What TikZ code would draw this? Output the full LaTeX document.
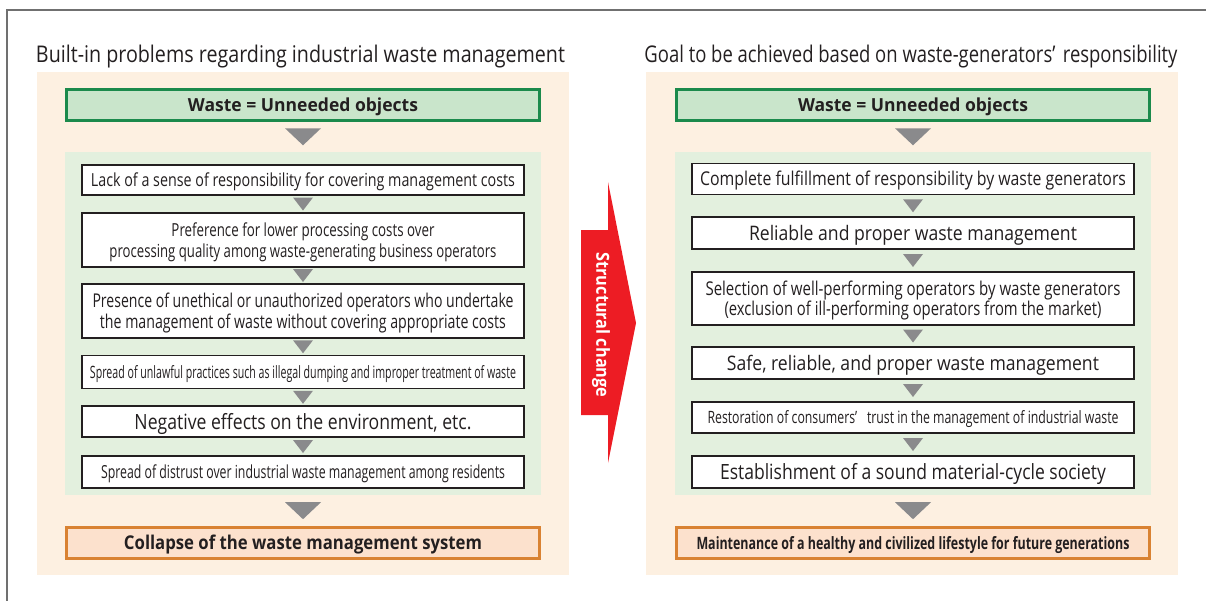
\documentclass[tikz,border=0pt]{standalone}
\usepackage{fontspec}
\usepackage{graphicx}
\usetikzlibrary{calc}
\setmainfont{Open Sans}
\definecolor{frameline}{HTML}{707070}
\definecolor{beige}{HTML}{FDF0E1}
\definecolor{panelgreen}{HTML}{E3F0DE}
\definecolor{headfill}{HTML}{C9E5CB}
\definecolor{headline}{HTML}{1B8A4C}
\definecolor{footfill}{HTML}{FCE1CD}
\definecolor{footline}{HTML}{D98232}
\definecolor{arrowgrey}{HTML}{8A8A8C}
\definecolor{turnred}{HTML}{ED1C24}
\definecolor{txt}{HTML}{231F20}
% squeeze a line to a width (second lines: \fitline, no lift)
\newcommand{\fitline}[2]{\resizebox{#1}{\height}{#2}}
\newcommand{\fitw}[2]{\raisebox{0pt}[\dimexpr\height+2pt\relax][\depth]{\fitline{#1}{#2}}}
\newcommand{\fs}[1]{\fontsize{#1}{#1}\selectfont}
% grey triangle halfway between two boxes
\newcommand{\downtri}[4]{\fill[arrowgrey] ($(#1.south)!.5!(#2.north)$) ++(-#3,#4) -- ++(2*#3,0) -- ++(-#3,-2*#4) -- cycle;}

\begin{document}
\begin{tikzpicture}[x=0.5pt,y=0.5pt]
\tikzstyle{every node}+=[inner sep=0pt, text=txt]
\tikzstyle{backpanel}=[fill=beige, minimum width=266pt, minimum height=251.5pt]
\tikzstyle{midpanel}=[fill=panelgreen, minimum width=238pt, minimum height=171.5pt]
\tikzstyle{headbox}=[draw=headline, line width=1.5pt, fill=headfill, minimum width=236.5pt, minimum height=15.5pt, font=\fs{9}\bfseries]
\tikzstyle{footbox}=[draw=footline, line width=1.5pt, fill=footfill, minimum width=236.5pt, minimum height=15.5pt]
\tikzstyle{wbox}=[draw=txt, line width=0.6pt, fill=white, minimum width=221pt, align=center]
\tikzstyle{title}=[font=\fs{11.5}]
\useasboundingbox (0,0) rectangle (1206,-601);
\draw [frameline, line width=0.6pt] (1206,-10) -- (7,-10) -- (7,-601);
% left side
\node [title] (ltitle) at (300.5,-55) {\fitw{264.5pt}{Built-in problems regarding industrial waste management}};
\node [backpanel] (lback) at (303,-323.5) {};
\node [midpanel] (lpanel) at (303,-323.5) {};
\node [headbox] (lhead) at (303,-105) {\fitw{115pt}{Waste = Unneeded objects}};
\node [wbox, minimum height=15pt, font=\fs{9}] (l1) at (303,-180) {\fitw{212pt}{Lack of a sense of responsibility for covering management costs}};
\node [wbox, minimum height=27pt, font=\fontsize{9}{10.5}\selectfont] (l2) at (303,-240) {\fitw{131.5pt}{Preference for lower processing costs over}\\\fitline{193.5pt}{processing quality among waste-generating business operators}};
\node [wbox, minimum height=27pt, font=\fontsize{9.5}{10.5}\selectfont] (l3) at (303,-311) {\fitw{210.5pt}{Presence of unethical or unauthorized operators who undertake}\\\fitline{203pt}{the management of waste without covering appropriate costs}};
\node [wbox, minimum height=16.5pt, font=\fs{8.5}] (l4) at (303,-372) {\fitw{213pt}{Spread of unlawful practices such as illegal dumping and improper treatment of waste}};
\node [wbox, minimum height=15.5pt, font=\fs{10.5}] (l5) at (303,-421.5) {\fitw{168.5pt}{Negative effects on the environment, etc.}};
\node [wbox, minimum height=16pt, font=\fs{9}] (l6) at (303,-472) {\fitw{202pt}{Spread of distrust over industrial waste management among residents}};
\node [footbox, font=\fs{9.5}\bfseries] (lfoot) at (303,-543) {\fitw{179pt}{Collapse of the waste management system}};
\downtri{lhead}{lpanel}{18}{8.5}
\downtri{l1}{l2}{10}{6.5}
\downtri{l2}{l3}{10}{6.5}
\downtri{l3}{l4}{10}{6.5}
\downtri{l4}{l5}{10}{6.5}
\downtri{l5}{l6}{10}{6.5}
\downtri{lpanel}{lfoot}{18}{8.5}
% structural change
\fill [turnred] (581,-230) -- (608,-230) -- (608,-182) -- (636,-323) -- (608,-463) -- (608,-415) -- (581,-415) -- cycle;
\node [rotate=-90, text=white, font=\fs{9}\bfseries] (turn) at (601,-325) {\fitline{72.5pt}{Structural change}};
% right side
\node [title] (rtitle) at (911,-55) {\fitw{266.5pt}{Goal to be achieved based on waste-generators’\hspace{0.4em}responsibility}};
\node [backpanel] (rback) at (912,-323.5) {};
\node [midpanel] (rpanel) at (913,-323.5) {};
\node [headbox] (rhead) at (913,-105) {\fitw{115pt}{Waste = Unneeded objects}};
\node [wbox, minimum height=15.5pt, font=\fs{9.5}] (r1) at (913,-179) {\fitw{213pt}{Complete fulfillment of responsibility by waste generators}};
\node [wbox, minimum height=16pt, font=\fs{10}] (r2) at (913,-233) {\fitw{164pt}{Reliable and proper waste management}};
\node [wbox, minimum height=26.5pt, font=\fontsize{9.5}{10}\selectfont] (r3) at (913,-298.5) {\fitw{207.5pt}{Selection of well-performing operators by waste generators}\\\fitline{188.5pt}{(exclusion of ill-performing operators from the market)}};
\node [wbox, minimum height=16pt, font=\fs{10}] (r4) at (913,-363) {\fitw{186pt}{Safe, reliable, and proper waste management}};
\node [wbox, minimum height=15.5pt, font=\fs{8.5}] (r5) at (913,-417.5) {\fitw{205.5pt}{Restoration of consumers’\hspace{0.8em}trust in the management of industrial waste}};
\node [wbox, minimum height=16pt, font=\fs{10.5}] (r6) at (913,-472) {\fitw{193pt}{Establishment of a sound material-cycle society}};
\node [footbox, font=\fs{8.5}\bfseries] (rfoot) at (913,-543) {\fitw{216.5pt}{Maintenance of a healthy and civilized lifestyle for future generations}};
\downtri{rhead}{rpanel}{18}{8.5}
\downtri{r1}{r2}{10}{6.5}
\downtri{r2}{r3}{10}{6.5}
\downtri{r3}{r4}{10}{6.5}
\downtri{r4}{r5}{10}{6.5}
\downtri{r5}{r6}{10}{6.5}
\downtri{rpanel}{rfoot}{18}{8.5}
\end{tikzpicture}
\end{document}
